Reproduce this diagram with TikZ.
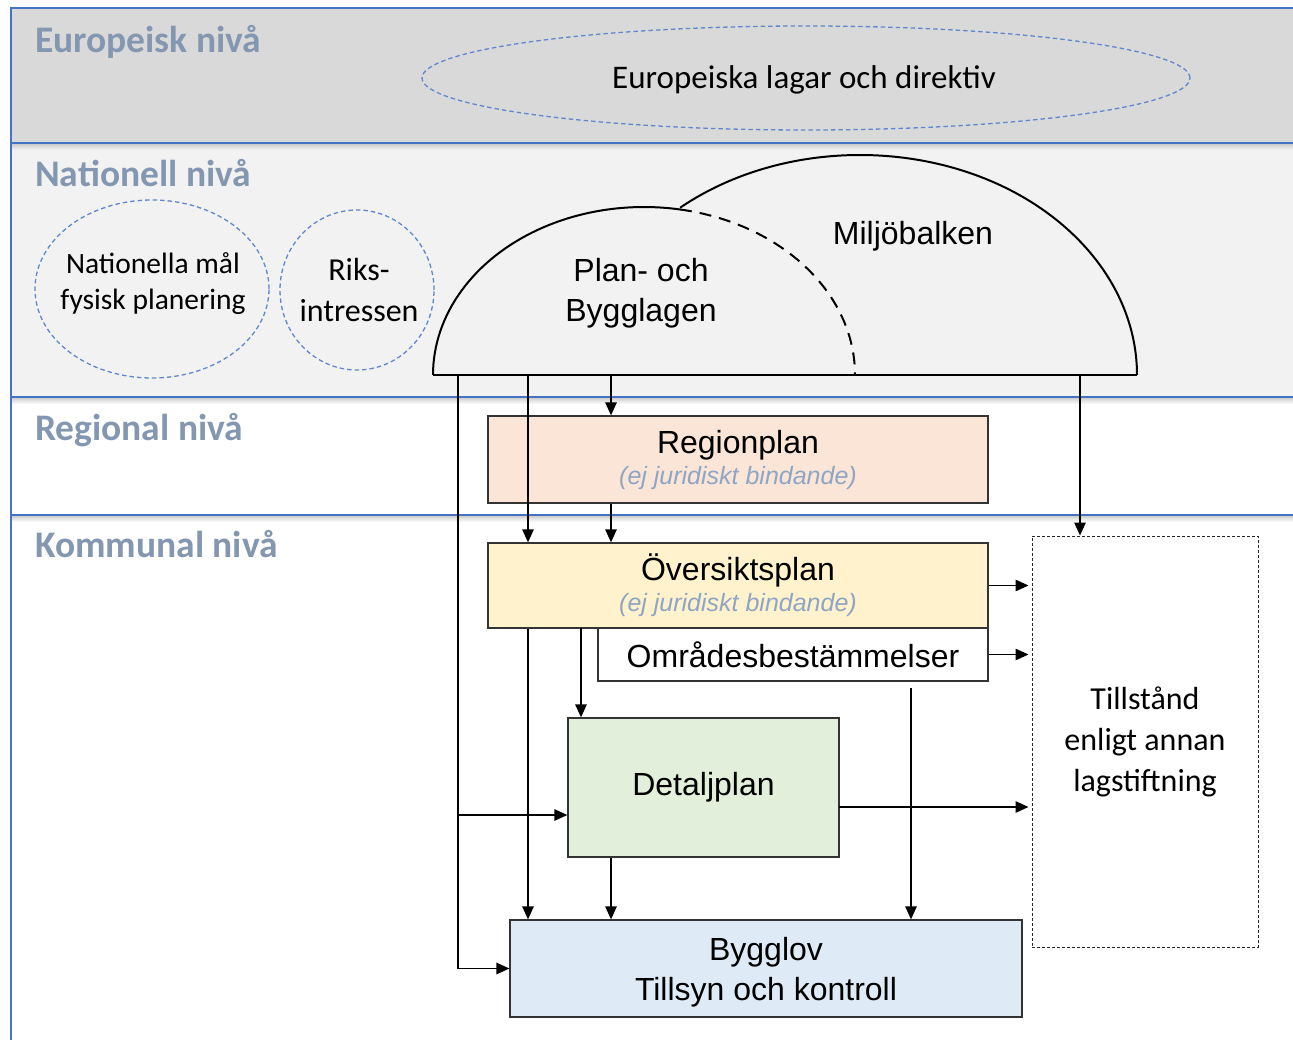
\documentclass[tikz,border=0pt]{standalone}
\usepackage{fontspec}
\setmainfont{Carlito}
\newfontfamily\arialfont{Liberation Sans}
\usetikzlibrary{shapes.geometric,arrows.meta,positioning,calc}
\definecolor{bandblue}{HTML}{4472C4}
\definecolor{levelgrey}{HTML}{8497B0}
\definecolor{eugrey}{HTML}{D9D9D9}
\definecolor{natgrey}{HTML}{F2F2F2}
\definecolor{regfill}{HTML}{FBE5D6}
\definecolor{opfill}{HTML}{FFF2CC}
\definecolor{dpfill}{HTML}{E2EFDA}
\definecolor{blfill}{HTML}{DEEBF7}
\definecolor{notegrey}{HTML}{8EA5C4}
\newcommand{\juri}{{\color{notegrey}\itshape\fontsize{25}{30}\selectfont (ej juridiskt bindande)}}

\tikzset{
  level/.style={anchor=base west, inner sep=0pt, text=levelgrey, font=\bfseries\fontsize{37.5}{40}\selectfont},
  dashell/.style={draw=bandblue!85, dash pattern=on 4.5pt off 3pt, line width=1.3pt},
  elltxt/.style={inner sep=0pt, align=center},
  planbox/.style={rectangle, draw=black!80, line width=1.3pt, inner sep=0pt, align=center, font=\arialfont\fontsize{32}{40}\selectfont},
  lawtxt/.style={inner sep=0pt, align=center, font=\arialfont\fontsize{32}{40}\selectfont},
  arr/.style={-{Triangle[length=13pt,width=11.5pt]}, line width=1.3pt},
}

\begin{document}
\begin{tikzpicture}[x=1pt,y=-1pt]
\useasboundingbox (0,0) rectangle (1293,1040);

% levels
\foreach \top/\bot/\col in {8/143/eugrey,143/397/natgrey,397/515/white,515/1070/white}{
  \fill[\col] (11,\top) rectangle (1310,\bot);
}
\foreach \y/\col in {143/natgrey,397/white,515/white}{
  \shade[top color=black!22, bottom color=\col] (11,\y) rectangle (1310,\y+7);
}
\foreach \top/\bot in {8/143,143/397,397/515,515/1070}{
  \draw[bandblue, line width=1.8pt] (11,\top) rectangle (1310,\bot);
}

\node[level] (eu) at (35,53) {Europeisk nivå};
\node[level] (nat) at (35,187) {Nationell nivå};
\node[level] (reg) at (35,440) {Regional nivå};
\node[level] (kom) at (35,557) {Kommunal nivå};

% european and national
\draw[dashell] (806,78) ellipse[x radius=384pt, y radius=52pt];
\node[elltxt, font=\fontsize{33}{40}\selectfont] (eudir) at (804,80) {Europeiska lagar och direktiv};
\draw[dashell] (152,289) ellipse[x radius=117pt, y radius=89pt];
\node[elltxt, font=\fontsize{29.5}{36}\selectfont] (natmal) at (153,284) {Nationella mål\\fysisk planering};
\draw[dashell] (357,290) ellipse[x radius=77pt, y radius=80pt];
\node[elltxt, font=\fontsize{32}{41}\selectfont] (riks) at (359,290) {Riks-\\intressen};

% domes
\coordinate (pblc) at (644,375);
\coordinate (mbc) at (860,375);
\draw[line width=2pt] (433,375) arc[start angle=180, end angle=80.2, x radius=211pt, y radius=168pt]
  coordinate (cut);
\draw[line width=2pt, dash pattern=on 12pt off 8pt] (cut) arc[start angle=80.2, end angle=0, x radius=211pt, y radius=168pt];
\draw[line width=2pt] (mbc) ++(130.5:277pt and 220pt) arc[start angle=130.5, end angle=0, x radius=277pt, y radius=220pt];
\draw[line width=2pt] (433,375) -- (1137,375);
\node[lawtxt] (pbl) at (641,293) {Plan- och\\Bygglagen};
\node[lawtxt] (mb) at (913,236) {Miljöbalken};

% plans
\node[planbox, fill=regfill, minimum width=500pt, minimum height=87pt] (regplan) at (738,459.5) {\raisebox{-3pt}{Regionplan}\\[-6pt]\juri};
\node[planbox, fill=opfill, minimum width=500pt, minimum height=85pt] (oversikt) at (738,585.5) {\raisebox{-3pt}{Översiktsplan}\\[-6pt]\juri};
\node[planbox, fill=white, minimum width=390pt, minimum height=53pt] (omrade) at (793,654.5) {Områdesbestämmelser};
\node[planbox, fill=dpfill, minimum width=271pt, minimum height=139pt] (detalj) at (703.5,787.5) {Detaljplan};
\node[planbox, fill=blfill, minimum width=512pt, minimum height=97pt] (bygglov) at (766,968.5) {};
\node[lawtxt] (bltxt) at ([yshift=-4pt]bygglov.center) {Bygglov\\Tillsyn och kontroll};
\node[planbox, draw=black!85, line width=1pt, dash pattern=on 3pt off 2pt, minimum width=226pt, minimum height=411pt,
  font=\fontsize{32}{41}\selectfont] (tillst) at (1145,741.5) {Tillstånd\\enligt annan\\lagstiftning};

% connectors
\coordinate (c1) at (458,375);
\coordinate (c2) at (528,375);
\coordinate (c3) at (611,375);
\coordinate (c4) at (581,628);
\coordinate (c5) at (911,688);
\coordinate (c6) at (1080,375);
\coordinate (br) at (458,815);
\coordinate (dpout) at (839,807);

\draw[arr] (c3) -- (c3 |- regplan.north);
\draw[arr] (c3 |- regplan.south) -- (c3 |- oversikt.north);
\draw[arr] (c2) -- (c2 |- oversikt.north);
\draw[arr] (c6) -- (c6 |- tillst.north);
\draw[arr] (c1) |- (bygglov.west);
\draw[arr] (br) -- (br -| detalj.west);
\draw[arr] (c2 |- oversikt.south) -- (c2 |- bygglov.north);
\draw[arr] (c4) -- (c4 |- detalj.north);
\draw[arr] (c3 |- detalj.south) -- (c3 |- bygglov.north);
\draw[arr] (c5) -- (c5 |- bygglov.north);
\draw[arr] (dpout) -- ([xshift=-3pt]dpout -| tillst.west);
\foreach \n in {oversikt,omrade}{
  \draw[arr] (\n.east) -- ([xshift=-3pt]\n.east -| tillst.west);
}
\end{tikzpicture}
\end{document}
